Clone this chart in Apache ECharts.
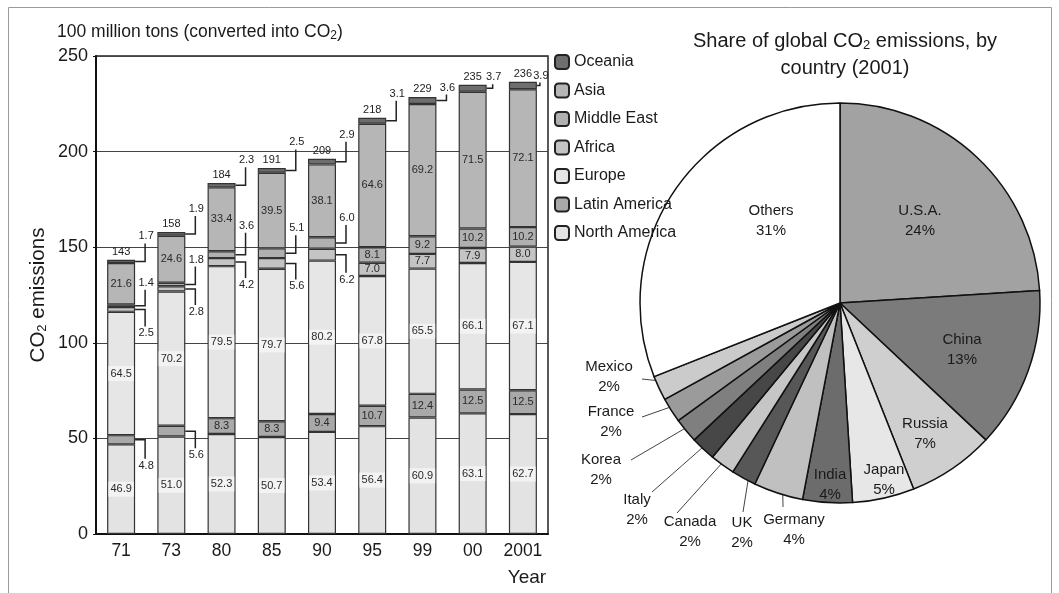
<!DOCTYPE html>
<html>
<head>
<meta charset="utf-8">
<title>CO2 emissions by region and country</title>
<script src="https://cdn.jsdelivr.net/npm/echarts@6/dist/echarts.min.js"></script>
<style>
  html, body { margin: 0; padding: 0; background: #fff; }
  #chart { width: 1059px; height: 593px; }
</style>
</head>
<body>
<div id="chart"></div>
<script>
// ---- Data: emissions by region (100 million tons CO2) ----
const years = ['71', '73', '80', '85', '90', '95', '99', '00', '2001'];
const northAmerica = [46.9, 51.0, 52.3, 50.7, 53.4, 56.4, 60.9, 63.1, 62.7];
const latinAmerica = [4.8, 5.6, 8.3, 8.3, 9.4, 10.7, 12.4, 12.5, 12.5];
const europe = [64.5, 70.2, 79.5, 79.7, 80.2, 67.8, 65.5, 66.1, 67.1];
const africa = [2.5, 2.8, 4.2, 5.6, 6.2, 7.0, 7.7, 7.9, 8.0];
const middleEast = [1.4, 1.8, 3.6, 5.1, 6.0, 8.1, 9.2, 10.2, 10.2];
const asia = [21.6, 24.6, 33.4, 39.5, 38.1, 64.6, 69.2, 71.5, 72.1];
const oceania = [1.7, 1.9, 2.3, 2.5, 2.9, 3.1, 3.6, 3.7, 3.9];
const totals = [143, 158, 184, 191, 209, 218, 229, 235, 236];
const yMin = 0, yMax = 250, yStep = 50;

// ---- Data: share of global emissions by country, 2001 (%) ----
const countries = ['U.S.A.', 'China', 'Russia', 'Japan', 'India', 'Germany', 'UK',
                   'Canada', 'Italy', 'Korea', 'France', 'Mexico', 'Others'];
const shares = [24, 13, 7, 5, 4, 4, 2, 2, 2, 2, 2, 2, 31];

// ---- Styling ----
const FONT = '"Liberation Sans", Arial, Helvetica, sans-serif';
const INK = '#1a1a1a';
const BAR_W = 28;
const SMALL = 11;

// Stack order, bottom to top
const regions = [
  { name: 'North America', values: northAmerica, color: '#e3e3e3', labelBg: '#f3f3f3' },
  { name: 'Latin America', values: latinAmerica, color: '#a9a9a9', labelBg: 'transparent' },
  { name: 'Europe',        values: europe,       color: '#e6e6e6', labelBg: '#f3f3f3' },
  { name: 'Africa',        values: africa,       color: '#c4c4c4', labelBg: 'transparent' },
  { name: 'Middle East',   values: middleEast,   color: '#b0b0b0', labelBg: 'transparent' },
  { name: 'Asia',          values: asia,         color: '#b6b6b6', labelBg: 'transparent' },
  { name: 'Oceania',       values: oceania,      color: '#6e6e6e', labelBg: 'transparent' }
];

// Thin segments get their value printed beside the bar with a bracket leader.
// dy: vertical shift of the label from the segment middle (px), dx: leader reach (px).
const leaderLayout = {
  'Oceania':       { dy: [-25, -25, -25, -28, -27, -27, -13, -11, -10], dx: [10, 10, 10, 10, 10, 10, 10, 6, 3] },
  'Middle East':   { dy: [-23, -25, -29, -25, -25], dx: [10, 10, 10, 10, 10] },
  'Africa':        { dy: [24, 23, 23, 23, 25],      dx: [10, 10, 10, 10, 10] },
  'Latin America': { dy: [26, 24],                  dx: [10, 10] }
};

// Pie geometry and label placement
const PIE_CX = 840, PIE_CY = 303, PIE_R = 200;
const pieColors = ['#a2a2a2', '#7b7b7b', '#cfcfcf', '#e7e7e7', '#6c6c6c', '#c0c0c0', '#575757',
                   '#c6c6c6', '#474747', '#7f7f7f', '#9b9b9b', '#cbcbcb', '#ffffff'];
const pieLabelAt = {
  'U.S.A.': [920, 221], 'China': [962, 350], 'Russia': [925, 434], 'Japan': [884, 480],
  'India': [830, 485], 'Germany': [794, 530], 'UK': [742, 533], 'Canada': [690, 532],
  'Italy': [637, 510], 'Korea': [601, 470], 'France': [611, 422], 'Mexico': [609, 377],
  'Others': [771, 221]
};
const pieLeaderEnd = {
  'Germany': [783, 507], 'UK': [743, 512], 'Canada': [677, 513], 'Italy': [652, 492],
  'Korea': [631, 460], 'France': [642, 417], 'Mexico': [642, 379]
};

// ---- Build bar series ----
const stackTops = years.map(() => 0);
const leaderItems = [];
const leaderTexts = [];
const barSeries = regions.map(r => {
  const layout = leaderLayout[r.name];
  const data = r.values.map((v, i) => {
    const base = stackTops[i];
    stackTops[i] = base + v;
    const outside = layout && layout.dy[i] !== undefined;
    if (outside) {
      leaderItems.push([i, base + v / 2, layout.dy[i], layout.dx[i]]);
      leaderTexts.push(v.toFixed(1));
    }
    return { value: v, label: { show: !outside } };
  });
  return {
    name: r.name,
    type: 'bar',
    stack: 'total',
    barWidth: BAR_W,
    data: data,
    itemStyle: { color: r.color, borderColor: '#333', borderWidth: 1.2 },
    label: {
      position: 'inside',
      formatter: p => p.value.toFixed(1),
      fontFamily: FONT, fontSize: SMALL, color: '#2a2a2a',
      backgroundColor: r.labelBg, padding: [2, 2]
    },
    emphasis: { disabled: true },
    z: 2
  };
});

const totalItems = years.map((y, i) => [i, stackTops[i]]);

const leaderSeries = {
  type: 'custom',
  name: 'leaders',
  data: leaderItems,
  encode: { x: 0, y: 1 },
  z: 5,
  silent: true,
  renderItem: function (params, api) {
    const p = api.coord([api.value(0), api.value(1)]);
    const dy = api.value(2), dx = api.value(3);
    const x0 = p[0] + BAR_W / 2, x1 = x0 + dx;
    const yl = p[1] + dy;
    const yEnd = yl + (dy < 0 ? 7 : -7);
    return {
      type: 'group',
      children: [
        { type: 'polyline', shape: { points: [[x0, p[1]], [x1, p[1]], [x1, yEnd]] },
          style: { stroke: '#222', lineWidth: 1.5, fill: null } },
        { type: 'text', style: {
            text: leaderTexts[params.dataIndex], x: x1 + 1, y: yl,
            align: 'center', verticalAlign: 'middle', textAlign: 'center', textVerticalAlign: 'middle',
            fontFamily: FONT, fontSize: SMALL, fill: '#222' } }
      ]
    };
  }
};

const totalSeries = {
  type: 'custom',
  name: 'totals',
  data: totalItems,
  encode: { x: 0, y: 1 },
  z: 5,
  silent: true,
  renderItem: function (params, api) {
    const p = api.coord([api.value(0), api.value(1)]);
    return {
      type: 'text',
      style: {
        text: String(totals[params.dataIndex]), x: p[0], y: p[1] - 8,
        align: 'center', verticalAlign: 'middle', textAlign: 'center', textVerticalAlign: 'middle',
        fontFamily: FONT, fontSize: SMALL, fill: '#222'
      }
    };
  }
};

// ---- Pie series ----
let cum = 0;
const pieMidAngles = shares.map(s => {
  const mid = 90 - (cum + s / 2) * 3.6;
  cum += s;
  return mid;
});

const pieSeries = {
  type: 'pie',
  center: [PIE_CX, PIE_CY],
  radius: PIE_R,
  startAngle: 90,
  clockwise: true,
  avoidLabelOverlap: false,
  emphasis: { disabled: true },
  data: countries.map((c, i) => ({
    name: c,
    value: shares[i],
    itemStyle: { color: pieColors[i] },
    labelLine: { show: !!pieLeaderEnd[c] }
  })),
  itemStyle: { borderColor: '#111', borderWidth: 1.5 },
  label: {
    show: true,
    position: 'outside',
    formatter: p => p.name + '\n' + p.value + '%',
    fontFamily: FONT, fontSize: 15, lineHeight: 20, color: INK, align: 'center'
  },
  labelLine: { show: true, lineStyle: { color: '#444', width: 1 } },
  labelLayout: function (params) {
    const name = countries[params.dataIndex];
    const at = pieLabelAt[name];
    const out = { x: at[0], y: at[1], align: 'center', verticalAlign: 'middle' };
    const end = pieLeaderEnd[name];
    if (end) {
      const a = pieMidAngles[params.dataIndex] * Math.PI / 180;
      const inner = [PIE_CX + 0.93 * PIE_R * Math.cos(a), PIE_CY - 0.93 * PIE_R * Math.sin(a)];
      out.labelLinePoints = [inner, [(inner[0] + end[0]) / 2, (inner[1] + end[1]) / 2], end];
    }
    return out;
  }
};

const chart = echarts.init(document.getElementById('chart'), null, { renderer: 'canvas' });
chart.setOption({
  animation: false,
  backgroundColor: '#fff',
  textStyle: { fontFamily: FONT },
  grid: { left: 96, right: 511, top: 56, bottom: 59, show: true, borderColor: '#222', borderWidth: 1.5 },
  legend: {
    orient: 'vertical', left: 554, top: 54, padding: 0,
    itemWidth: 14, itemHeight: 14, itemGap: 12.5,
    icon: 'roundRect',
    itemStyle: { borderColor: '#222', borderWidth: 2 },
    textStyle: { fontFamily: FONT, fontSize: 16, color: INK },
    data: ['Oceania', 'Asia', 'Middle East', 'Africa', 'Europe', 'Latin America', 'North America']
  },
  xAxis: {
    type: 'category',
    data: years,
    boundaryGap: true,
    axisLine: { lineStyle: { color: '#111', width: 2 } },
    axisTick: { inside: true, length: 10, lineStyle: { color: '#111', width: 2 } },
    axisLabel: { interval: 0, fontFamily: FONT, fontSize: 17.5, color: INK, margin: 8 },
    splitLine: { show: false }
  },
  yAxis: {
    type: 'value',
    min: yMin, max: yMax, interval: yStep,
    name: '{a|CO}{s|2}{a| emissions}',
    nameLocation: 'middle',
    nameGap: 47,
    nameTextStyle: {
      fontFamily: FONT, fontSize: 20.5, color: INK,
      rich: { a: { fontFamily: FONT, fontSize: 20.5, color: INK },
              s: { fontFamily: FONT, fontSize: 13, color: INK, padding: [9, 0, 0, 0] } }
    },
    axisLine: { show: true, lineStyle: { color: '#111', width: 2 } },
    axisTick: { show: true, length: 3, lineStyle: { color: '#111' } },
    axisLabel: { fontFamily: FONT, fontSize: 18, color: INK, margin: 8 },
    splitLine: { show: true, lineStyle: { color: '#444', width: 1.2 } }
  },
  graphic: [
    { type: 'rect', shape: { x: 8.5, y: 7.5, width: 1043, height: 600 },
      style: { fill: null, stroke: '#9a9a9a', lineWidth: 1 }, silent: true, z: -1 },
    { type: 'text', x: 57, y: 32,
      style: {
        text: '{a|100 million tons (converted into CO}{s|2}{a|)}',
        verticalAlign: 'middle', textVerticalAlign: 'middle',
        rich: { a: { fontFamily: FONT, fontSize: 17.5, fill: INK, color: INK },
                s: { fontFamily: FONT, fontSize: 12, fill: INK, color: INK, padding: [7, 0, 0, 0] } }
      } },
    { type: 'text', x: 845, y: 41,
      style: {
        text: '{a|Share of global CO}{s|2}{a| emissions, by}',
        align: 'center', textAlign: 'center', verticalAlign: 'middle', textVerticalAlign: 'middle',
        rich: { a: { fontFamily: FONT, fontSize: 20, fill: INK, color: INK },
                s: { fontFamily: FONT, fontSize: 13, fill: INK, color: INK, padding: [9, 0, 0, 0] } }
      } },
    { type: 'text', x: 845, y: 68,
      style: { text: 'country (2001)', align: 'center', textAlign: 'center',
               verticalAlign: 'middle', textVerticalAlign: 'middle',
               fontFamily: FONT, fontSize: 20, fill: INK } },
    { type: 'text', x: 527, y: 578,
      style: { text: 'Year', align: 'center', textAlign: 'center',
               verticalAlign: 'middle', textVerticalAlign: 'middle',
               fontFamily: FONT, fontSize: 19, fill: INK } }
  ],
  series: barSeries.concat([leaderSeries, totalSeries, pieSeries])
});
</script>
</body>
</html>
